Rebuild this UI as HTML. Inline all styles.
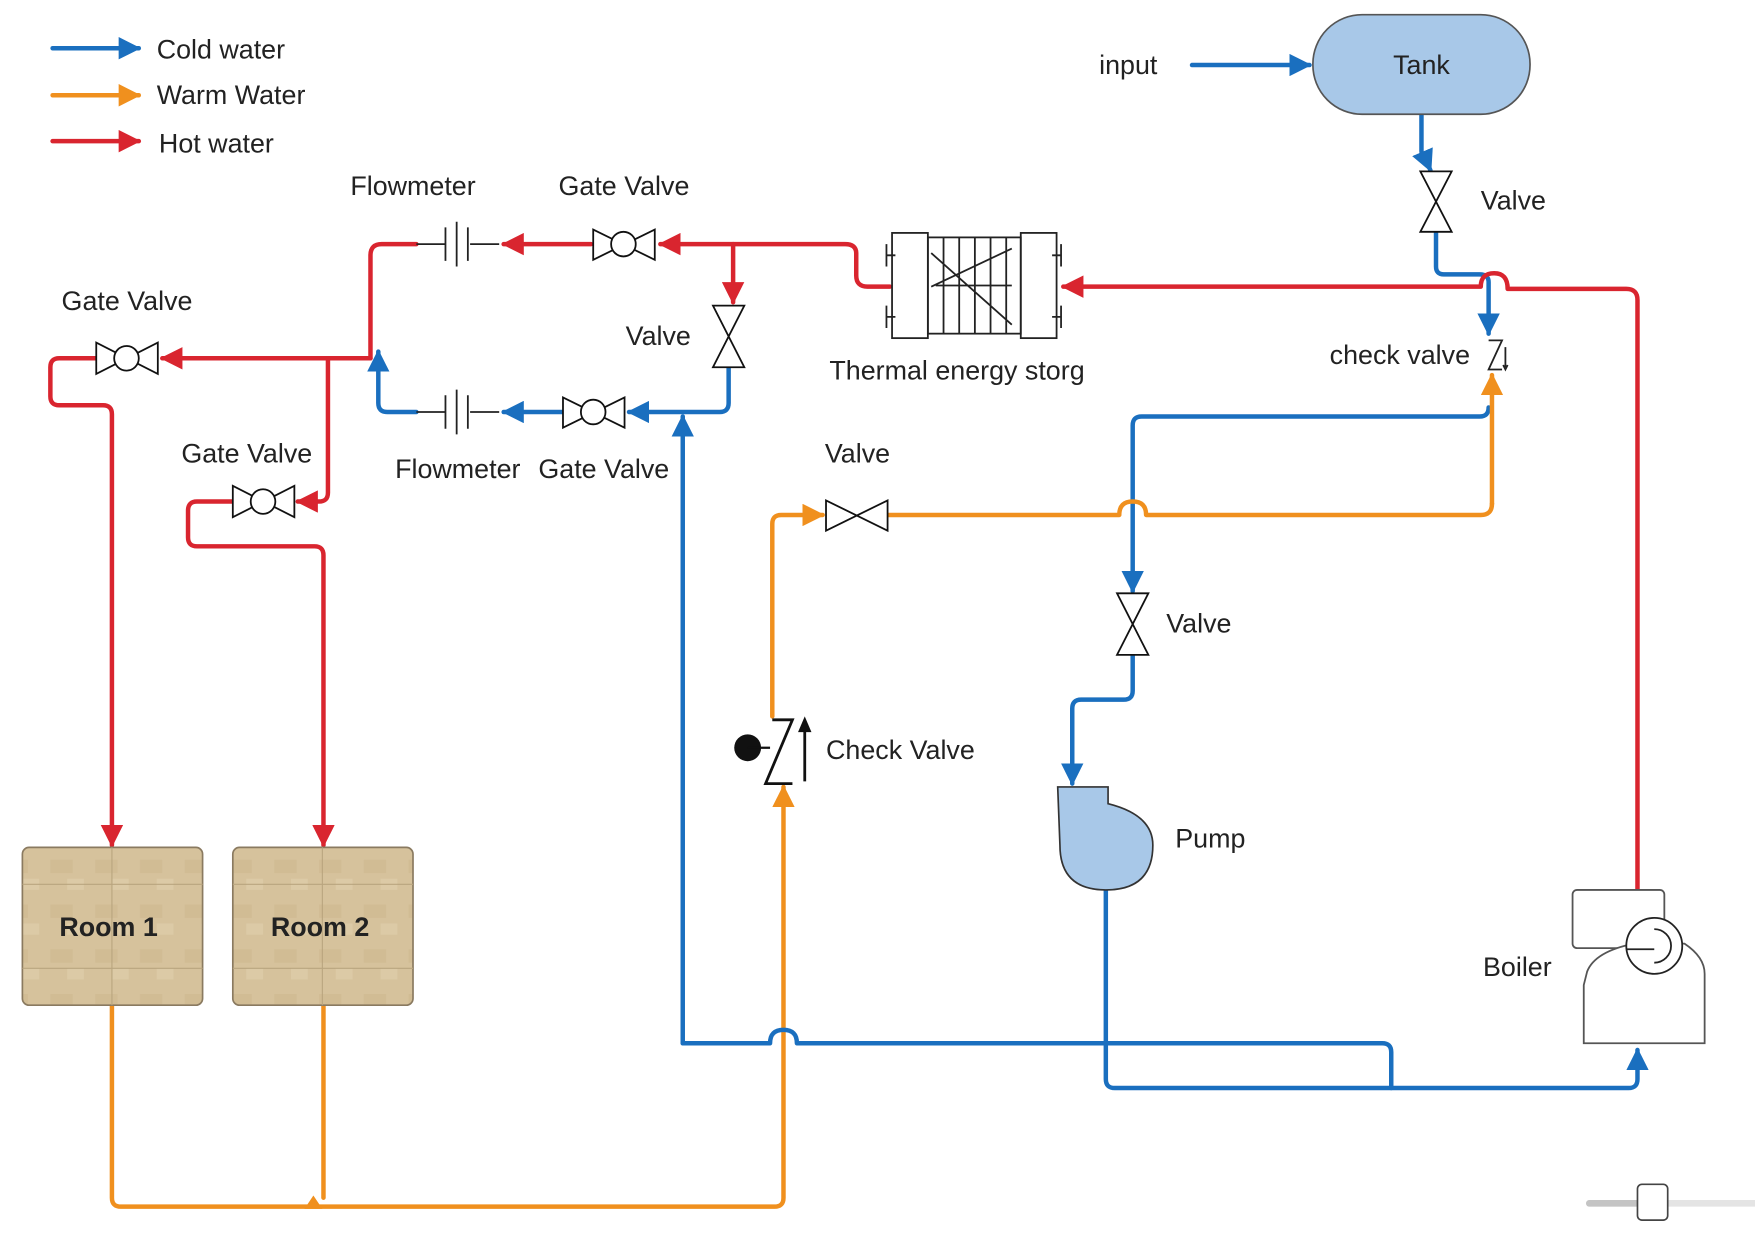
<!DOCTYPE html>
<html><head><meta charset="utf-8"><style>
html,body{margin:0;padding:0;background:#fff;}
svg{display:block;}
text{font-family:"Liberation Sans",Arial,sans-serif;font-size:24px;fill:#222;}
</style></head><body>
<svg width="1755" height="1237" viewBox="0 0 1568 1105" xmlns="http://www.w3.org/2000/svg">
<defs>
<marker id="ab" viewBox="0 0 10 10" refX="9" refY="5" markerWidth="5" markerHeight="5" orient="auto" markerUnits="strokeWidth"><path d="M0,0L10,5L0,10z" fill="#1a6fbf"/></marker>
<marker id="ao" viewBox="0 0 10 10" refX="9" refY="5" markerWidth="5" markerHeight="5" orient="auto" markerUnits="strokeWidth"><path d="M0,0L10,5L0,10z" fill="#f0901e"/></marker>
<marker id="ar" viewBox="0 0 10 10" refX="9" refY="5" markerWidth="5" markerHeight="5" orient="auto" markerUnits="strokeWidth"><path d="M0,0L10,5L0,10z" fill="#d9252f"/></marker>
<pattern id="tex" width="40" height="40" patternUnits="userSpaceOnUse"><rect width="40" height="40" fill="#d6c29c"/><rect x="5" y="8" width="20" height="12" fill="#cdb88f" opacity=".6"/><rect x="20" y="25" width="15" height="10" fill="#e0cfae" opacity=".6"/></pattern>
</defs>
<g fill="none" stroke-width="4" stroke-linejoin="round" stroke-linecap="round">
<path d="M47,43H124" stroke="#1a6fbf" marker-end="url(#ab)"/>
<path d="M47,85H124" stroke="#f0901e" marker-end="url(#ao)"/>
<path d="M47,126H124" stroke="#d9252f" marker-end="url(#ar)"/>
<path d="M1065,58H1170" stroke="#1a6fbf" marker-end="url(#ab)"/>
<path d="M1270,102V135Q1270,140 1275,145L1278,152" stroke="#1a6fbf" marker-end="url(#ab)"/>
<path d="M1283,207V238Q1283,245 1290,245H1322Q1330,245 1330,252V298" stroke="#1a6fbf" marker-end="url(#ab)"/>
<path d="M1463,795V268Q1463,258 1453,258H1347Q1347,244 1335,244Q1323,244 1323,256H950" stroke="#d9252f" marker-end="url(#ar)"/>
<path d="M795,256H775Q765,256 765,246V226Q765,218 755,218H590" stroke="#d9252f" marker-end="url(#ar)"/>
<path d="M655,218V270" stroke="#d9252f" marker-end="url(#ar)"/>
<path d="M528,218H450" stroke="#d9252f" marker-end="url(#ar)"/>
<path d="M372,218H341Q331,218 331,228V320" stroke="#d9252f"/>
<path d="M331,320H145" stroke="#d9252f" marker-end="url(#ar)"/>
<path d="M85,320H53Q45,320 45,328V354Q45,362 53,362H92Q100,362 100,370V755" stroke="#d9252f" marker-end="url(#ar)"/>
<path d="M293,320V440Q293,448 285,448H266" stroke="#d9252f" marker-end="url(#ar)"/>
<path d="M208,448H176Q168,448 168,456V480Q168,488 176,488H281Q289,488 289,496V755" stroke="#d9252f" marker-end="url(#ar)"/>
<path d="M651,328V360Q651,368 643,368H562" stroke="#1a6fbf" marker-end="url(#ab)"/>
<path d="M502,368H450" stroke="#1a6fbf" marker-end="url(#ab)"/>
<path d="M372,368H346Q338,368 338,360V314" stroke="#1a6fbf" marker-end="url(#ab)"/>
<path d="M610,932V372" stroke="#1a6fbf" marker-end="url(#ab)"/>
<path d="M100,898V1070Q100,1078 108,1078H692Q700,1078 700,1070V703" stroke="#f0901e" marker-end="url(#ao)"/>
<path d="M610,932H688Q688,920 700,920Q712,920 712,932H1235Q1243,932 1243,940V972" stroke="#1a6fbf"/>
<path d="M988,795V964Q988,972 996,972H1455Q1463,972 1463,964V938" stroke="#1a6fbf" marker-end="url(#ab)"/>
<path d="M1330,364Q1330,372 1322,372H1020Q1012,372 1012,380V528" stroke="#1a6fbf" marker-end="url(#ab)"/>
<path d="M1012,585V617Q1012,625 1004,625H966Q958,625 958,633V700" stroke="#1a6fbf" marker-end="url(#ab)"/>
<path d="M1333,450V335" stroke="#f0901e" marker-end="url(#ao)"/>
<path d="M1333,450Q1333,460 1323,460H1024Q1024,448 1012,448Q1000,448 1000,460H793" stroke="#f0901e"/>
<path d="M690,640V468Q690,460 698,460H735" stroke="#f0901e" marker-end="url(#ao)"/>
<path d="M289,898V1070" stroke="#f0901e"/>
</g>
<path d="M280,1068L272,1080H288Z" fill="#f0901e"/>
<rect x="1173" y="13" width="194" height="89" rx="44" fill="#a8c8e8" stroke="#555" stroke-width="1.5"/>
<text x="1270" y="66" text-anchor="middle" font-size="22">Tank</text>
<g fill="#fff" stroke="#111" stroke-width="1.6">
<path d="M1269,153H1297L1269,207H1297Z"/>
<path d="M637,273H665L637,328H665Z"/>
<path d="M998,530H1026L998,585H1026Z"/>
<path d="M738,447V474L793,447V474Z"/>
<g><path d="M530,205V232L585,205V232Z"/><circle cx="557" cy="218" r="11"/></g>
<g><path d="M503,355V382L558,355V382Z"/><circle cx="530" cy="368" r="11"/></g>
<g><path d="M86,306V334L141,306V334Z"/><circle cx="113" cy="320" r="11"/></g>
<g><path d="M208,434V462L263,434V462Z"/><circle cx="235" cy="448" r="11"/></g>
</g>
<g stroke="#222" stroke-width="1.6" fill="none">
<path d="M372,218H398M398,203V233M408,198V238M418,203V233M420,218H446"/>
<path d="M372,368H398M398,353V383M408,348V388M418,353V383M420,368H446"/>
<rect x="797" y="208" width="32" height="94"/><rect x="912" y="208" width="32" height="94"/>
<rect x="829" y="212" width="83" height="86"/>
<path d="M843,212V298M857,212V298M871,212V298M885,212V298M899,212V298M836,255L904,255M832,256L904,222M832,226L904,290"/>
<path d="M792,218V238M792,228H800M792,273V293M792,283H800M948,218V238M940,228H948M948,273V293M940,283H948"/>
<path d="M1330,304H1342L1330,330H1342M1345,310V328M1343,326L1345,330L1347,326"/>
<rect x="1405" y="795" width="82" height="52" rx="4" fill="#fff" stroke="#555"/>
<path d="M1418,868Q1425,850 1460,843H1505Q1523,855 1523,870V932H1415V880Z" fill="#fff" stroke="#555"/>
<circle cx="1478" cy="845" r="25" fill="#fff" stroke="#222"/><path d="M1478,830A15,15 0 0 1 1478,860" stroke="#222"/>
<path d="M1453,848H1478"/>
</g>
<g stroke="#111" stroke-width="2.5" fill="none"><path d="M690,643H708L684,700H708M719,698V645"/></g>
<path d="M719,640L713,654H725Z" fill="#111"/>
<circle cx="668" cy="668" r="12" fill="#111"/><path d="M668,668H688" stroke="#111" stroke-width="2"/>
<path d="M945,703H990V718Q1030,728 1030,755Q1030,795 988,795Q947,795 947,755Z" fill="#a8c8e8" stroke="#333" stroke-width="1.5"/>
<g stroke="#8a7a60" stroke-width="1.5">
<rect x="20" y="757" width="161" height="141" rx="6" fill="url(#tex)"/>
<rect x="208" y="757" width="161" height="141" rx="6" fill="url(#tex)"/>
<path d="M100,757V898M20,790H181M20,865H181M288,757V898M208,790H369M208,865H369" stroke="#b9a57f" stroke-width="1"/>
</g>
<text x="97" y="836" text-anchor="middle" font-weight="bold">Room 1</text>
<text x="286" y="836" text-anchor="middle" font-weight="bold">Room 2</text>
<path d="M1420,1075H1568" stroke="#e4e4e4" stroke-width="6" stroke-linecap="round"/>
<path d="M1420,1075H1465" stroke="#c4c4c4" stroke-width="6" stroke-linecap="round"/>
<rect x="1463" y="1058" width="27" height="32" rx="4" fill="#fff" stroke="#444" stroke-width="1.5"/>
<text x="140" y="52">Cold water</text>
<text x="140" y="93">Warm Water</text>
<text x="142" y="136">Hot water</text>
<text x="982" y="66">input</text>
<text x="1323" y="187">Valve</text>
<text x="313" y="174">Flowmeter</text>
<text x="499" y="174">Gate Valve</text>
<text x="55" y="277">Gate Valve</text>
<text x="559" y="308">Valve</text>
<text x="162" y="413">Gate Valve</text>
<text x="353" y="427">Flowmeter</text>
<text x="481" y="427">Gate Valve</text>
<text x="741" y="339">Thermal energy storg</text>
<text x="1188" y="325">check valve</text>
<text x="737" y="413">Valve</text>
<text x="1042" y="565">Valve</text>
<text x="738" y="678">Check Valve</text>
<text x="1050" y="757">Pump</text>
<text x="1325" y="872">Boiler</text>
</svg>
</body></html>
